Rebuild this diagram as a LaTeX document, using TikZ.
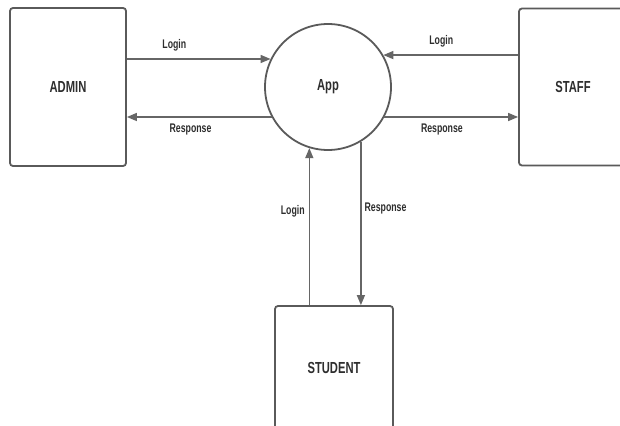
\documentclass[tikz,border=0pt]{standalone}
\usepackage{fontspec}
\setmainfont{Liberation Sans}
\newfontfamily\dfdfont[FakeStretch=0.7]{Liberation Sans Bold}
\usetikzlibrary{arrows.meta}
\definecolor{boxline}{HTML}{5A5A5A}
\definecolor{flowline}{HTML}{666666}
\definecolor{dfdtext}{HTML}{2E2E2E}
\tikzset{
  entitytext/.style={text=dfdtext,font=\dfdfont\fontsize{16}{18}\selectfont},
  entity/.style={draw=boxline,line width=1.8pt,rounded corners=3pt,fill=white,entitytext},
  process/.style={circle,draw=boxline,line width=1.8pt,minimum size=126pt,entitytext},
  flow/.style={draw=flowline,line width=1.4pt,-{Triangle[length=10pt,width=8pt]}},
  flowlabel/.style={inner sep=0pt,text=dfdtext,font=\dfdfont\fontsize{12.5}{14}\selectfont}
}
\begin{document}
 \begin{tikzpicture}[x=1pt,y=-1pt]
  \fill[white] (0,0) rectangle (620,425);
  \useasboundingbox (0,0) rectangle (620,425);
  \node[entity,minimum width=116pt,minimum height=158pt] (admin) at (68,87) {ADMIN};
  \node[entity,minimum width=140pt,minimum height=157pt,
    label={[entitytext,xshift=-16pt]center:STAFF}] (staff) at (589,87) {};
  \node[entity,minimum width=118pt,minimum height=124pt] (student) at (334,368) {STUDENT};
  \node[process] (app) at (328,87) {App};
  \draw[flow] (admin.east |- app.154.6) -- node[flowlabel,pos=0.33,above=7pt] {Login} (app.154.6);
  \draw[flow] (app.208.4) -- node[flowlabel,pos=0.56,below=6pt] {Response} (admin.east |- app.208.4);
  \draw[flow] (staff.west |- app.30.5) -- node[flowlabel,pos=0.57,above=7pt] {Login} (app.30.5);
  \draw[flow] (app.-28.4) -- node[flowlabel,pos=0.43,below=6pt] {Response} (staff.west |- app.-28.4);
  \draw[flow] (student.north -| app.253.4) -- node[flowlabel,pos=0.6,left=4pt] {Login} (app.253.4);
  \draw[flow] (app.301.6) -- node[flowlabel,pos=0.41,right=3pt] {Response} (student.north -| app.301.6);
 \end{tikzpicture}
\end{document}
